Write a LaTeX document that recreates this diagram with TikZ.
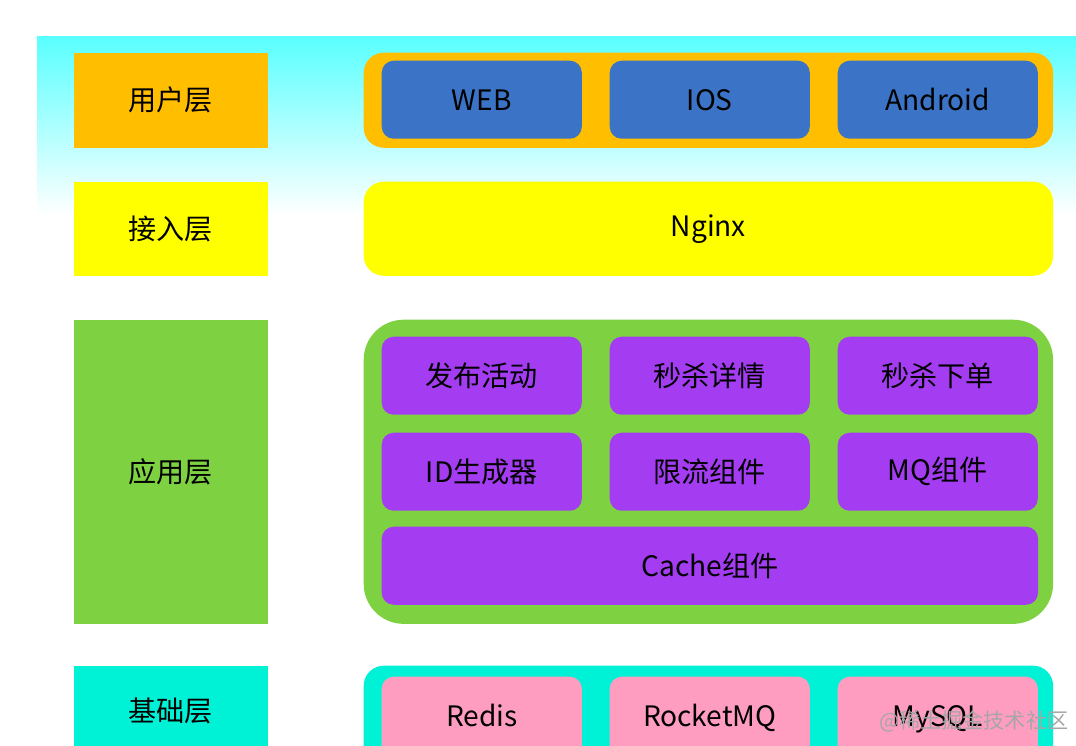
\documentclass[tikz,border=0pt]{standalone}
\usepackage{fontspec}
\setmainfont{Noto Sans CJK SC}
\usetikzlibrary{positioning}
\definecolor{userc}{HTML}{FFBF00}
\definecolor{accessc}{HTML}{FFFF00}
\definecolor{appc}{HTML}{7ED242}
\definecolor{basec}{HTML}{00F2D6}
\definecolor{bluec}{HTML}{3B74C6}
\definecolor{purplec}{HTML}{A43DF2}
\definecolor{pinkc}{HTML}{FF9DC1}
\begin{document}
\begin{tikzpicture}[x=0.01cm,y=-0.01cm,
  txt/.style={font=\fontsize{8}{10}\selectfont},
  layer/.style={txt,anchor=north west,inner sep=0pt,minimum width=1.94cm},
  cont/.style={anchor=north west,inner sep=0pt,minimum width=6.89cm,rounded corners=0.2cm},
  box/.style={txt,anchor=north west,inner sep=0pt,minimum width=2cm,minimum height=0.78cm,rounded corners=0.12cm}]
  \useasboundingbox (0,0) rectangle (1076,746);
  \clip (0,0) rectangle (1076,746);
  \shade[top color=cyan!65,bottom color=white] (37,37) rectangle (1076,215);
  % layers
  \node[layer,fill=userc,minimum height=0.95cm] (user) at (73,52) {用户层};
  \node[layer,fill=accessc,minimum height=0.94cm] (access) at (73,181) {接入层};
  \node[layer,fill=appc,minimum height=3.04cm] (app) at (73,319) {应用层};
  \node[layer,fill=basec,minimum height=1.3cm,text depth=0.43cm] (base) at (73,665) {基础层};
  % containers
  \node[cont,fill=userc,minimum height=0.95cm] (userbox) at (363,52) {};
  \node[cont,txt,fill=accessc,minimum height=0.94cm] (nginx) at (363,181) {Nginx};
  \node[cont,fill=appc,minimum height=3.04cm,rounded corners=0.4cm] (appbox) at (363,319) {};
  \node[cont,fill=basec,minimum height=1.3cm] (basebox) at (363,665) {};
  % boxes
  \foreach \x/\n/\t in {381/web/WEB,609/ios/IOS,837/android/Android}
    \node[box,fill=bluec] (\n) at (\x,60) {\t};
  \foreach \x/\n/\t in {381/pub/发布活动,609/detail/秒杀详情,837/order/秒杀下单}
    \node[box,fill=purplec] (\n) at (\x,336) {\t};
  \foreach \x/\n/\t in {381/idgen/ID生成器,609/limit/限流组件,837/mq/MQ组件}
    \node[box,fill=purplec] (\n) at (\x,432) {\t};
  \node[box,fill=purplec,minimum width=6.56cm] (cache) at (381,526) {Cache组件};
  \foreach \x/\n/\t in {381/redis/Redis,609/rocket/RocketMQ,837/mysql/MySQL}
    \node[box,fill=pinkc,minimum height=1.2cm,text depth=0.42cm] (\n) at (\x,676) {\t};
  \node[anchor=south east,text=gray!70,font=\fontsize{6}{7}\selectfont,inner sep=2pt] (mark) at (1076,740) {@稀土掘金技术社区};
\end{tikzpicture}
\end{document}
